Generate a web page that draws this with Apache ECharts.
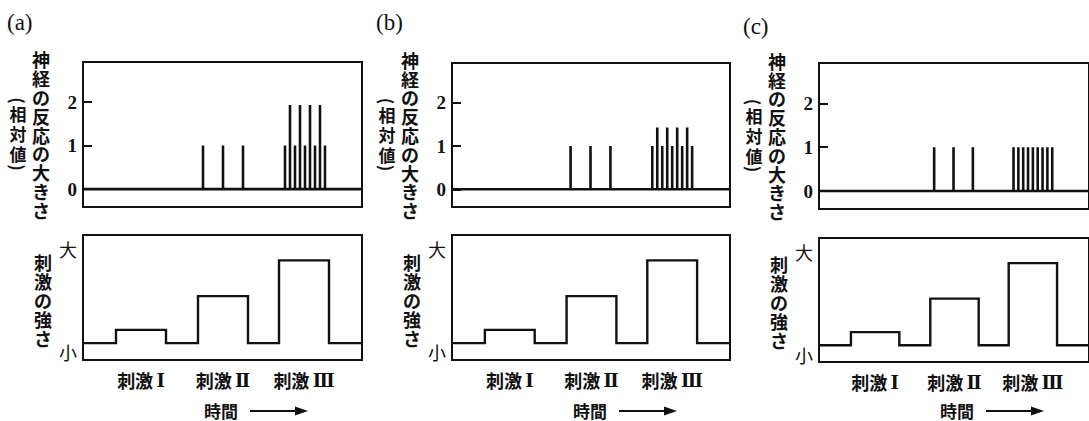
<!DOCTYPE html>
<html>
<head>
<meta charset="utf-8">
<script src="https://cdn.jsdelivr.net/npm/echarts@6/dist/echarts.min.js"></script>
<style>
  html, body { margin: 0; padding: 0; background: #fff; }
  #chart { width: 1089px; height: 421px; }
</style>
</head>
<body>
<div id="chart"></div>
<script>
// ---- data ----
const panelLabels = ['(a)', '(b)', '(c)'];
const responseTitle = ['神', '経', 'の', '反', '応', 'の', '大', 'き', 'さ'];
const responseUnit = ['相', '対', '値'];
const strengthTitle = ['刺', '激', 'の', '強', 'さ'];
const timeLabel = '時間';
const stimulusWord = '刺激';
const stimulusNumerals = ['Ⅰ', 'Ⅱ', 'Ⅲ'];

const responseTicks = [0, 1, 2];
const strengthTickValues = [-10, 100];
const strengthTickLabels = ['小', '大'];

// stimulus timing (time units) and strength (大 = 100)
const timeEnd = 279;
const stimOn = [33, 115, 196];
const stimOff = [83, 165, 246];
const stimLevel = [14, 50, 88];

// nerve response spikes for each panel
const spikeTimesA = [120, 140, 160, 202, 207, 212, 217, 222, 227, 232, 237, 242];
const spikeHeightsA = [1, 1, 1, 1, 1.93, 1, 1.93, 1, 1.93, 1, 1.93, 1];
const spikeTimesB = [119, 139, 159, 201, 206, 211, 216, 221, 226, 231, 236, 241];
const spikeHeightsB = [1, 1, 1, 1, 1.43, 1, 1.43, 1, 1.43, 1, 1.43, 1];
const spikeTimesC = [119, 139, 159, 201, 206, 211, 216, 221, 226, 231, 236, 241];
const spikeHeightsC = [1, 1, 1, 1, 1, 1, 1, 1, 1, 1, 1, 1];

// ---- layout ----
const INK = '#111';
const CJK = '"Noto Sans CJK JP", sans-serif';
const SERIF = '"Liberation Serif", "DejaVu Serif", serif';
const panels = [
  { left: 83,  width: 279, topY: 62, topH: 145, botY: 235, botH: 125, labelY: 22, times: spikeTimesA, heights: spikeHeightsA },
  { left: 452, width: 278, topY: 63, topH: 144, botY: 235, botH: 125, labelY: 22, times: spikeTimesB, heights: spikeHeightsB },
  { left: 819, width: 278, topY: 63, topH: 146, botY: 238, botH: 124, labelY: 26, times: spikeTimesC, heights: spikeHeightsC }
];

function spikeTrain(times, heights) {
  const pts = [[0, 0]];
  times.forEach((t, i) => { pts.push([t, 0], [t, heights[i]], [t, 0]); });
  pts.push([timeEnd, 0]);
  return pts;
}

function stimulusTrace() {
  const pts = [[0, 0]];
  stimOn.forEach((t, i) => {
    pts.push([t, 0], [t, stimLevel[i]], [stimOff[i], stimLevel[i]], [stimOff[i], 0]);
  });
  pts.push([timeEnd, 0]);
  return pts;
}

const stimCenters = stimOn.map((t, i) => (t + stimOff[i]) / 2);

const grid = [], xAxis = [], yAxis = [], series = [], graphic = [];

panels.forEach((p, i) => {
  const gTop = 2 * i, gBot = 2 * i + 1;
  grid.push(
    { left: p.left, top: p.topY, width: p.width, height: p.topH, show: true, borderColor: INK, borderWidth: 2, backgroundColor: 'transparent' },
    { left: p.left, top: p.botY, width: p.width, height: p.botH, show: true, borderColor: INK, borderWidth: 2, backgroundColor: 'transparent' }
  );
  xAxis.push(
    { gridIndex: gTop, type: 'value', min: 0, max: timeEnd, show: false },
    {
      gridIndex: gBot, type: 'value', min: 0, max: timeEnd,
      axisLine: { show: false }, axisTick: { show: false }, splitLine: { show: false },
      axisLabel: {
        customValues: stimCenters,
        margin: 11,
        formatter: v => {
          const k = stimCenters.indexOf(v);
          return '{c|' + stimulusWord + '} {r|' + stimulusNumerals[k] + '}';
        },
        rich: {
          c: { fontFamily: CJK, fontWeight: 'bold', fontSize: 18, color: INK },
          r: { fontFamily: '"DejaVu Serif", serif', fontWeight: 'bold', fontSize: 18, color: INK }
        }
      }
    }
  );
  yAxis.push(
    {
      gridIndex: gTop, type: 'value', min: -0.41, max: 2.92,
      axisLine: { show: false }, splitLine: { show: false },
      axisTick: { show: true, inside: true, length: 9, customValues: responseTicks, lineStyle: { color: INK, width: 2 } },
      axisLabel: { customValues: responseTicks, margin: 6, color: INK, fontFamily: SERIF, fontWeight: 'bold', fontSize: 19 }
    },
    {
      gridIndex: gBot, type: 'value', min: -18, max: 115,
      axisLine: { show: false }, splitLine: { show: false }, axisTick: { show: false },
      axisLabel: {
        customValues: strengthTickValues, margin: 6, color: INK, fontFamily: CJK, fontSize: 18,
        formatter: v => strengthTickLabels[strengthTickValues.indexOf(v)]
      }
    }
  );
  series.push(
    {
      type: 'line', xAxisIndex: gTop, yAxisIndex: gTop, data: spikeTrain(p.times, p.heights),
      symbol: 'none', silent: true, animation: false,
      lineStyle: { color: INK, width: 2.6, join: 'bevel', cap: 'butt' }
    },
    {
      type: 'line', xAxisIndex: gBot, yAxisIndex: gBot, data: stimulusTrace(),
      symbol: 'none', silent: true, animation: false,
      lineStyle: { color: INK, width: 2.4, join: 'miter' }
    }
  );

  // panel label
  graphic.push({
    type: 'text', x: p.left - 76, y: p.labelY,
    style: { text: panelLabels[i], fill: INK, font: '23px ' + SERIF, align: 'left', verticalAlign: 'middle' }
  });
  // response axis title (vertical)
  const topMid = p.topY + p.topH / 2;
  graphic.push({
    type: 'text', x: p.left - 42, y: topMid,
    style: { text: responseTitle.join('\n'), fill: INK, font: 'bold 18px ' + CJK, lineHeight: 18.8, align: 'center', verticalAlign: 'middle' }
  });
  // "(相対値)" written vertically: upright characters between turned brackets
  const unitX = p.left - 65;
  graphic.push({
    type: 'text', x: unitX, y: topMid - 1,
    style: { text: responseUnit.join('\n'), fill: INK, font: 'bold 17px ' + CJK, lineHeight: 20, align: 'center', verticalAlign: 'middle' }
  });
  graphic.push({
    type: 'text', x: unitX, y: topMid - 34, rotation: -Math.PI / 2,
    style: { text: '(', fill: INK, font: 'bold 17px ' + CJK, align: 'center', verticalAlign: 'middle' }
  });
  graphic.push({
    type: 'text', x: unitX, y: topMid + 33, rotation: -Math.PI / 2,
    style: { text: ')', fill: INK, font: 'bold 17px ' + CJK, align: 'center', verticalAlign: 'middle' }
  });
  // stimulus-strength axis title (vertical)
  graphic.push({
    type: 'text', x: p.left - 40, y: p.botY + p.botH / 2 + 2,
    style: { text: strengthTitle.join('\n'), fill: INK, font: 'bold 18px ' + CJK, lineHeight: 19, align: 'center', verticalAlign: 'middle' }
  });
  // time label with arrow
  graphic.push({
    type: 'text', x: p.left + 121, y: 410,
    style: { text: timeLabel, fill: INK, font: 'bold 17px ' + CJK, lineHeight: 17, align: 'left', verticalAlign: 'middle' }
  });
  graphic.push({
    type: 'line', shape: { x1: p.left + 167, y1: 411, x2: p.left + 214, y2: 411 },
    style: { stroke: INK, lineWidth: 2.2 }
  });
  graphic.push({
    type: 'polygon', shape: { points: [[p.left + 212, 406.5], [p.left + 225, 411], [p.left + 212, 415.5]] },
    style: { fill: INK }
  });
});

const chart = echarts.init(document.getElementById('chart'), null, { renderer: 'svg' });
chart.setOption({
  backgroundColor: '#fff',
  animation: false,
  grid, xAxis, yAxis, series, graphic
});
</script>
</body>
</html>
